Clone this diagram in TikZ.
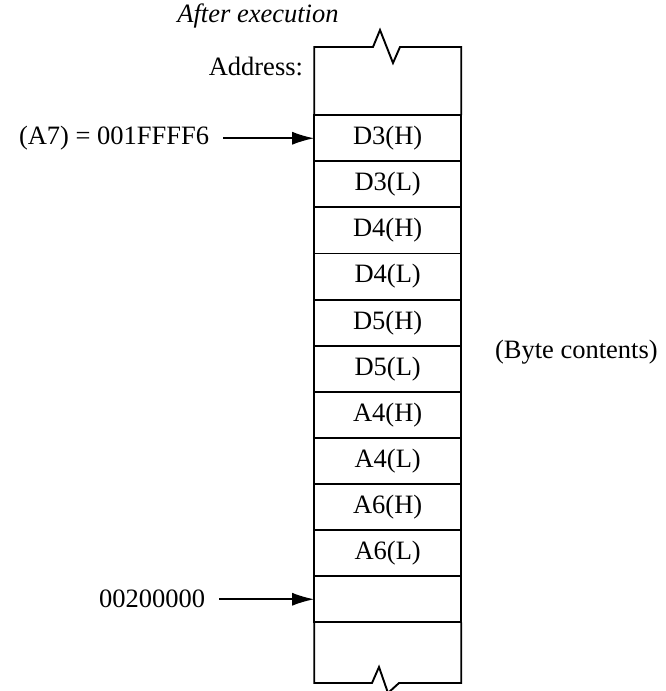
\documentclass[tikz,border=0pt]{standalone}
\usepackage{fontspec}
\setmainfont{Liberation Serif}
\usetikzlibrary{positioning,arrows.meta}
\tikzset{cellbox/.style={
    rectangle,
    draw,
    line width=1.9pt,
    outer sep=0pt,
    inner sep=0pt,
    minimum width=147pt,
    minimum height=46.1pt,
    font=\fontsize{26.5}{30}\selectfont
  },
  lbl/.style={inner sep=0pt,outer sep=0pt,font=\fontsize{26.5}{30}\selectfont},
  titlelbl/.style={lbl,font=\fontsize{26.5}{30}\selectfont\itshape},
  ptr/.style={line width=1.6pt,-{Latex[length=22pt,width=13pt]},shorten <=14pt},
  breakline/.style={line width=1.9pt,line join=miter},
}

\begin{document}
\begin{tikzpicture}[x=1pt,y=-1pt]
  \useasboundingbox (0,0) rectangle (665,691);
  \matrix (mem) [anchor=north west,inner sep=0pt,row sep=-1.9pt,ampersand replacement=\&] at (313.05,114.05) {
    \node [cellbox] (d3h) {D3(H)}; \\
    \node [cellbox] (d3l) {D3(L)}; \\
    \node [cellbox] (d4h) {D4(H)}; \\
    \node [cellbox] (d4l) {D4(L)}; \\
    \node [cellbox] (d5h) {D5(H)}; \\
    \node [cellbox] (d5l) {D5(L)}; \\
    \node [cellbox] (a4h) {A4(H)}; \\
    \node [cellbox] (a4l) {A4(L)}; \\
    \node [cellbox] (a6h) {A6(H)}; \\
    \node [cellbox] (a6l) {A6(L)}; \\
    \node [cellbox] (free) {}; \\
  };
  % open ends of the memory
  \draw[breakline] (d3h.north west) |- (373,47) -- (380,30) -- (393,63) -- (400,47) -| (d3h.north east);
  \draw[breakline] (free.south west) |- (372,683) -- (379,667) -- (388,693) -- (399,683) -| (free.south east);

  \node [titlelbl] (title) at (258,16) {After execution};
  \node [lbl,anchor=east] (addr) at (303,66) {Address:};
  \node [lbl,anchor=west] (bytes) at (495,352) {(Byte contents)};

  \node [lbl] (a7) [left=105pt of d3h] {(A7) = 001FFFF6};
  \node [lbl] (base) [left=109pt of free] {00200000};
  \draw[ptr] (a7) -- (d3h);
  \draw[ptr] (base) -- (free);
\end{tikzpicture}
\end{document}
